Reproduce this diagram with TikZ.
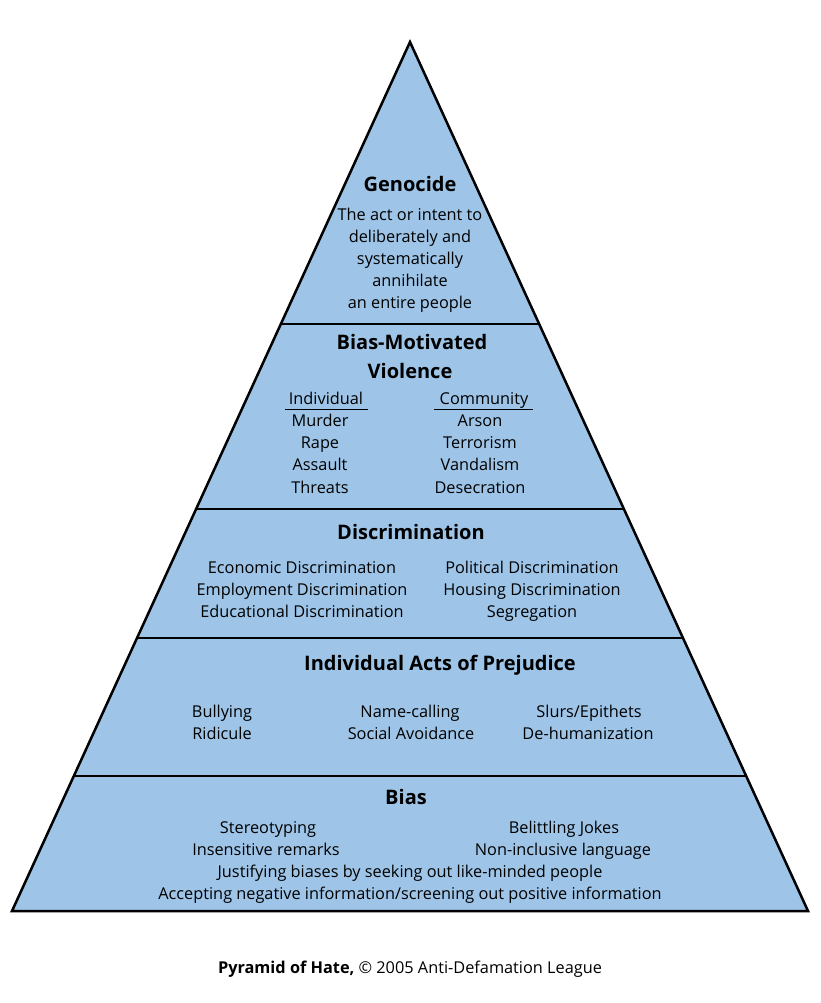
\documentclass[tikz,border=0pt]{standalone}
\usepackage{fontspec}
\setmainfont{Open Sans}
\begin{document}
\begin{tikzpicture}[x=1pt,y=-1pt,
  t/.style={inner sep=0pt,text height=11pt,text depth=3pt,font=\fontsize{16.3}{19}\selectfont},
  h/.style={inner sep=0pt,text height=14pt,text depth=4pt,font=\fontsize{20}{24}\selectfont\bfseries},
  div/.style={line width=1.4pt}]
\useasboundingbox[fill=white] (0,0) rectangle (820,1003);
\coordinate (apex) at (410,42);
\coordinate (bl) at (12,911);
\coordinate (br) at (808,911);
\fill[fill={rgb,255:red,158;green,197;blue,232}] (apex)--(br)--(bl)--cycle;
\foreach \y/\n in {324/a,509/b,638/c,776/d}{
  \pgfmathsetmacro\xl{410-(\y-42)*0.458}
  \pgfmathsetmacro\xr{410+(\y-42)*0.458}
  \coordinate (l\n) at (\xl,\y); \coordinate (r\n) at (\xr,\y);
  \draw[div] (l\n)--(r\n);}
\draw[line width=2.5pt,line join=miter] (apex)--(br)--(bl)--cycle;
% Genocide
\node[h] (g) at (410,187) {Genocide};
\foreach \s/\y [count=\i] in {The act or intent to/216,deliberately and/238,systematically/260,annihilate/282,an entire people/304}
  \node[t] (g\i) at (410,\y) {\s};
% Violence
\node[h] (v1) at (412,344) {Bias-Motivated};
\node[h] (v2) at (410,373) {Violence};
\node[t] (ind) at (326,400) {Individual};
\node[t] (com) at (484,400) {Community};
\coordinate (u1) at (285,409); \coordinate (u2) at (368,409);
\coordinate (u3) at (434,409); \coordinate (u4) at (533,409);
\draw[line width=0.8pt] (u1)--(u2); \draw[line width=0.8pt] (u3)--(u4);
\foreach \s/\y [count=\i] in {Murder/422,Rape/444,Assault/466,Threats/489}
  \node[t] (vi\i) at (320,\y) {\s};
\foreach \s/\y [count=\i] in {Arson/422,Terrorism/444,Vandalism/466,Desecration/489}
  \node[t] (vc\i) at (480,\y) {\s};
% Discrimination
\node[h] (d) at (411,534) {Discrimination};
\foreach \s/\y [count=\i] in {Economic Discrimination/569,Employment Discrimination/591,Educational Discrimination/613}
  \node[t] (dl\i) at (302,\y) {\s};
\foreach \s/\y [count=\i] in {Political Discrimination/569,Housing Discrimination/591,Segregation/613}
  \node[t] (dr\i) at (532,\y) {\s};
% Individual acts
\node[h] (p) at (440,665) {Individual Acts of Prejudice};
\node[t] (p1) at (222,713) {Bullying};
\node[t] (p2) at (222,735) {Ridicule};
\node[t] (p3) at (410,713) {Name-calling};
\node[t] (p4) at (411,735) {Social Avoidance};
\node[t] (p5) at (589,713) {Slurs/Epithets};
\node[t] (p6) at (588,735) {De-humanization};
% Bias
\node[h] (b) at (406,799) {Bias};
\node[t] (b1) at (268,829) {Stereotyping};
\node[t] (b2) at (266,851) {Insensitive remarks};
\node[t] (b3) at (564,829) {Belittling Jokes};
\node[t] (b4) at (563,851) {Non-inclusive language};
\node[t] (b5) at (410,873) {Justifying biases by seeking out like-minded people};
\node[t] (b6) at (410,895) {Accepting negative information/screening out positive information};
% caption
\node[t] (cap) at (410,969) {\textbf{Pyramid of Hate,} © 2005 Anti-Defamation League};
\end{tikzpicture}
\end{document}
